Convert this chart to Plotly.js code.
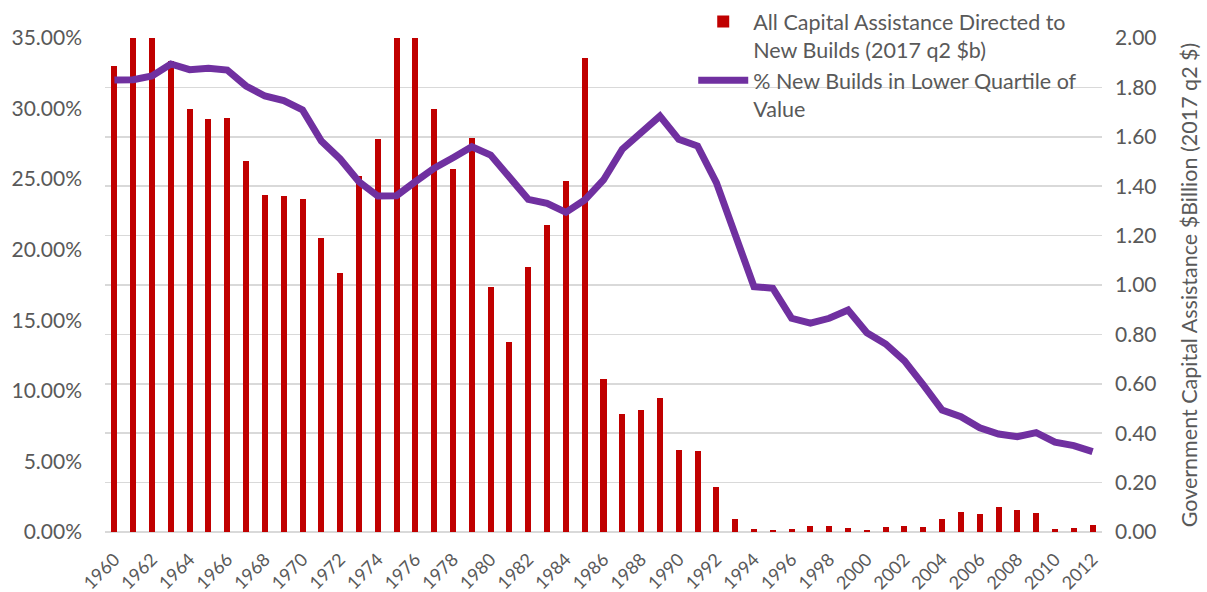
<!DOCTYPE html>
<html>
<head>
<meta charset="utf-8">
<script src="https://cdn.plot.ly/plotly-3.0.1.min.js"></script>
<style>
html,body{margin:0;padding:0;background:#fff;}
#chart{width:1207px;height:592px;}
</style>
</head>
<body>
<div id="chart"></div>
<script>
const years = [1960,1961,1962,1963,1964,1965,1966,1967,1968,1969,1970,1971,1972,1973,1974,1975,1976,1977,1978,1979,1980,1981,1982,1983,1984,1985,1986,1987,1988,1989,1990,1991,1992,1993,1994,1995,1996,1997,1998,1999,2000,2001,2002,2003,2004,2005,2006,2007,2008,2009,2010,2011,2012];

// All Capital Assistance Directed to New Builds (2017 q2 $b) - right axis
const capitalAssistance = [1.888,2.10,2.10,1.908,1.713,1.671,1.677,1.501,1.364,1.362,1.347,1.189,1.047,1.443,1.591,2.10,2.10,1.711,1.468,1.594,0.992,0.768,1.072,1.243,1.422,1.918,0.619,0.479,0.494,0.544,0.333,0.327,0.182,0.053,0.014,0.010,0.012,0.024,0.023,0.015,0.009,0.021,0.024,0.021,0.053,0.080,0.073,0.102,0.090,0.078,0.013,0.017,0.029];

// % New Builds in Lower Quartile of Value - left axis
const lowerQuartileShare = [0.3202,0.3205,0.3231,0.3316,0.3276,0.3285,0.3273,0.3160,0.3089,0.3056,0.2990,0.2770,0.2643,0.2482,0.2381,0.2383,0.2482,0.2577,0.2652,0.2730,0.2671,0.2506,0.2357,0.2329,0.2265,0.2352,0.2494,0.2712,0.2825,0.2947,0.2782,0.2735,0.2475,0.2116,0.1738,0.1727,0.1514,0.1479,0.1514,0.1573,0.1412,0.1332,0.1212,0.1042,0.0864,0.0817,0.0739,0.0694,0.0675,0.0704,0.0636,0.0612,0.0569];

const barName = "All Capital Assistance Directed to<br>New Builds (2017 q2 $b)";
const lineName = "% New Builds in Lower Quartile of<br>Value";
const rightTitle = "Government Capital Assistance $Billion (2017 q2 $)";

const FONT = "Lato, 'Open Sans', sans-serif";
const GREY = "#595959";

const traces = [
  {
    type: "bar",
    x: years,
    y: capitalAssistance,
    name: barName,
    yaxis: "y",
    width: 0.32,
    marker: {color: "#C00000", line: {width: 0}},
    hoverinfo: "x+y"
  },
  {
    type: "scatter",
    mode: "lines",
    x: years,
    y: lowerQuartileShare,
    name: lineName,
    yaxis: "y2",
    line: {color: "#7030A0", width: 7, shape: "linear"},
    hoverinfo: "x+y"
  }
];

const layout = {
  width: 1207,
  height: 592,
  margin: {l: 105, r: 105, t: 38, b: 60, pad: 0, autoexpand: false},
  paper_bgcolor: "#ffffff",
  plot_bgcolor: "#ffffff",
  font: {family: FONT, color: GREY, size: 20},
  showlegend: true,
  legend: {
    x: 0.59, y: 1.075, xanchor: "left", yanchor: "top",
    bgcolor: "rgba(0,0,0,0)",
    font: {family: FONT, size: 21.5, color: GREY},
    valign: "top",
    tracegroupgap: 0,
    itemwidth: 50
  },
  xaxis: {
    range: [1959.5, 2012.5],
    tickmode: "array",
    tickvals: years.filter(y => y % 2 === 0),
    ticktext: years.filter(y => y % 2 === 0).map(String),
    tickangle: -45,
    tickfont: {family: FONT, size: 18, color: GREY},
    ticks: "outside",
    ticklen: 9,
    tickcolor: "rgba(0,0,0,0)",
    showgrid: false,
    zeroline: false,
    showline: false
  },
  yaxis: {
    side: "right",
    range: [0, 2],
    dtick: 0.2,
    tick0: 0,
    tickformat: ".2f",
    tickfont: {family: FONT, size: 21, color: GREY},
    ticklabelstandoff: 12,
    showgrid: true,
    gridcolor: "#D9D9D9",
    gridwidth: 1.5,
    zeroline: true,
    zerolinecolor: "#D9D9D9",
    zerolinewidth: 1.5,
    showline: false,
    ticks: "",
    title: {text: rightTitle, font: {family: FONT, size: 21.5, color: GREY}, standoff: 26}
  },
  yaxis2: {
    overlaying: "y",
    side: "left",
    range: [0, 0.35],
    dtick: 0.05,
    tick0: 0,
    tickformat: ".2%",
    tickfont: {family: FONT, size: 21, color: GREY},
    ticklabelstandoff: 22,
    showgrid: false,
    zeroline: false,
    showline: false,
    ticks: ""
  },
  bargap: 0
};

Plotly.newPlot("chart", traces, layout, {displayModeBar: false, staticPlot: true});
</script>
</body>
</html>
